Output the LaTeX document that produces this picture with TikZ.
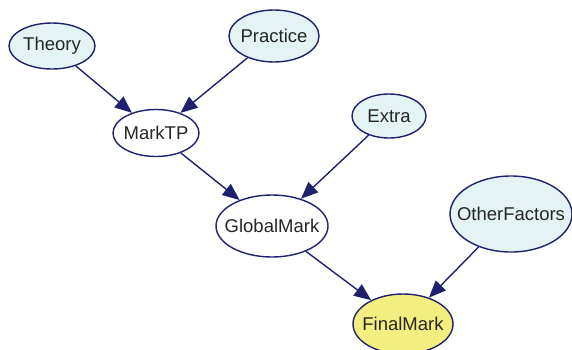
\documentclass[tikz,border=0pt]{standalone}
\usepackage{fontspec}
\setmainfont{Liberation Sans}
\usetikzlibrary{shapes.geometric,arrows.meta}
\definecolor{navy}{HTML}{1F216E}
\definecolor{cyanfill}{HTML}{E4F3F4}
\definecolor{yellowfill}{HTML}{F4EE80}
\definecolor{textgray}{HTML}{262626}
\tikzset{
  var/.style={ellipse, draw=navy, line width=1.4pt, inner sep=0pt,
    label={[font=\fontsize{18.5}{21}\selectfont, text=textgray, inner sep=0pt]center:#1}},
  input/.style={var=#1, fill=cyanfill},
  inner/.style={var=#1, fill=white},
  result/.style={var=#1, fill=yellowfill},
  link/.style={draw=navy, line width=1.4pt,
    -{Triangle[length=17pt,width=14pt]}},
}
\begin{document}
\begin{tikzpicture}[x=1pt,y=-1pt]
  \useasboundingbox (0,0) rectangle (572,349);
  \node[input=Theory, minimum width=86pt, minimum height=46pt] (theory) at (52,46) {};
  \node[input=Practice, minimum width=90pt, minimum height=52pt] (practice) at (274,36) {};
  \node[inner=MarkTP, minimum width=86pt, minimum height=47pt] (marktp) at (156,133) {};
  \node[input=Extra, minimum width=74pt, minimum height=44pt] (extra) at (389,116) {};
  \node[inner=GlobalMark, minimum width=112pt, minimum height=62pt] (global) at (272,226) {};
  \node[input=OtherFactors, minimum width=122pt, minimum height=76pt] (other) at (511,214) {};
  \node[result=FinalMark, minimum width=100pt, minimum height=60pt] (final) at (403,324) {};
  \draw[link] (theory) -- (marktp);
  \draw[link] (practice) -- (marktp);
  \draw[link] (marktp) -- (global);
  \draw[link] (extra) -- (global);
  \draw[link] (global) -- (final);
  \draw[link] (other) -- (final);
\end{tikzpicture}
\end{document}
